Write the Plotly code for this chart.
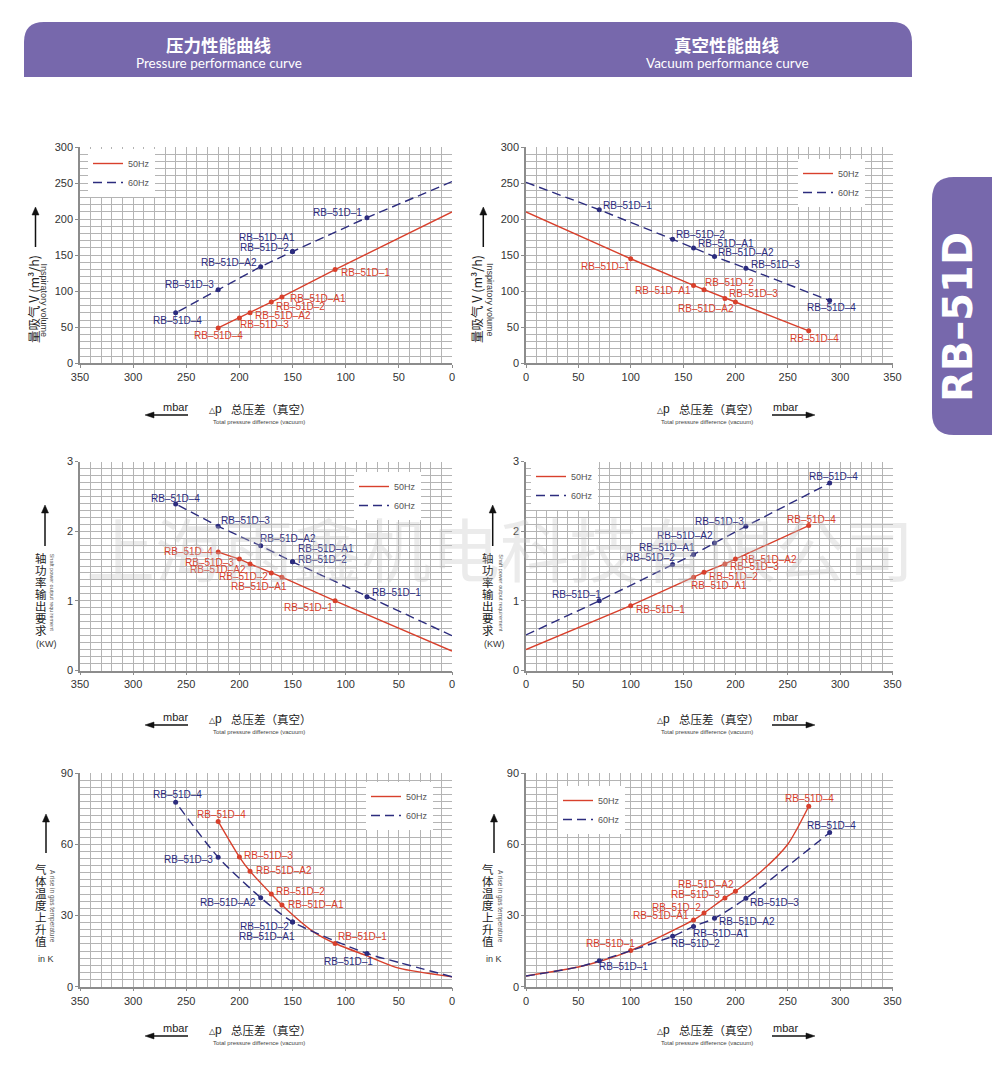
import plotly.graph_objects as go
import numpy as np

# page body has an 8px margin: the figure is sized to fit the window and all
# positions below are given in window pixels, converted with that offset.
OFF = 8
W, H = 1000 - OFF, 1065 - OFF
FONT = "Liberation Sans, Arial, sans-serif"
CJK = "Noto Sans CJK SC, Noto Sans, sans-serif"
RED = "#d8402c"
BLUE = "#2c2c7e"
GRID = "#b4b4b4"

# ---------------- DATA ----------------
# Top-left: pressure, inspiratory volume (m3/h)
TL_RED_NAMES = ["RB–51D–4", "RB–51D–3", "RB–51D–A2", "RB–51D–2", "RB–51D–A1", "RB–51D–1"]
TL_RED_X = [220, 200, 190, 170, 160, 110]
TL_RED_Y = [49, 63, 70, 85, 92, 130]
TL_RED_EXT_X = [0]
TL_RED_EXT_Y = [210]
TL_BLUE_NAMES = ["RB–51D–4", "RB–51D–3", "RB–51D–A2", "RB–51D–2", "RB–51D–A1", "RB–51D–1"]
TL_BLUE_X = [260, 220, 180, 150, 150, 80]
TL_BLUE_Y = [70, 102, 134, 155, 155, 202]
TL_BLUE_EXT_X = [0]
TL_BLUE_EXT_Y = [252]

# Top-right: vacuum, inspiratory volume
TR_RED_NAMES = ["RB–51D–1", "RB–51D–A1", "RB–51D–2", "RB–51D–A2", "RB–51D–3", "RB–51D–4"]
TR_RED_X = [100, 160, 170, 190, 200, 270]
TR_RED_Y = [145, 108, 102, 90, 85, 45]
TR_RED_EXT_X = [0]
TR_RED_EXT_Y = [210]
TR_BLUE_NAMES = ["RB–51D–1", "RB–51D–2", "RB–51D–A1", "RB–51D–A2", "RB–51D–3", "RB–51D–4"]
TR_BLUE_X = [70, 140, 160, 180, 210, 290]
TR_BLUE_Y = [213, 172, 160, 148, 132, 87]
TR_BLUE_EXT_X = [0]
TR_BLUE_EXT_Y = [251]

# Middle-left: pressure, shaft power (KW)
ML_RED_NAMES = ["RB–51D–4", "RB–51D–3", "RB–51D–A2", "RB–51D–2", "RB–51D–A1", "RB–51D–1"]
ML_RED_X = [220, 200, 190, 170, 160, 110]
ML_RED_Y = [1.70, 1.60, 1.53, 1.40, 1.34, 1.00]
ML_RED_EXT_X = [0]
ML_RED_EXT_Y = [0.28]
ML_BLUE_NAMES = ["RB–51D–4", "RB–51D–3", "RB–51D–A2", "RB–51D–A1", "RB–51D–2", "RB–51D–1"]
ML_BLUE_X = [260, 220, 180, 150, 150, 80]
ML_BLUE_Y = [2.39, 2.07, 1.79, 1.56, 1.56, 1.06]
ML_BLUE_EXT_X = [0]
ML_BLUE_EXT_Y = [0.50]

# Middle-right: vacuum, shaft power
MR_RED_NAMES = ["RB–51D–1", "RB–51D–A1", "RB–51D–2", "RB–51D–3", "RB–51D–A2", "RB–51D–4"]
MR_RED_X = [100, 160, 170, 190, 200, 270]
MR_RED_Y = [0.93, 1.34, 1.41, 1.53, 1.60, 2.08]
MR_RED_EXT_X = [0]
MR_RED_EXT_Y = [0.30]
MR_BLUE_NAMES = ["RB–51D–1", "RB–51D–2", "RB–51D–A1", "RB–51D–A2", "RB–51D–3", "RB–51D–4"]
MR_BLUE_X = [70, 140, 160, 180, 210, 290]
MR_BLUE_Y = [1.00, 1.52, 1.665, 1.83, 2.07, 2.69]
MR_BLUE_EXT_X = [0]
MR_BLUE_EXT_Y = [0.51]

# Bottom-left: pressure, gas temperature rise (K)
BL_RED_NAMES = ["RB–51D–4", "RB–51D–3", "RB–51D–A2", "RB–51D–2", "RB–51D–A1", "RB–51D–1"]
BL_RED_X = [220, 200, 190, 170, 160, 110]
BL_RED_Y = [69.6, 54.6, 48.6, 39.0, 34.4, 18.2]
BL_RED_EXT_X = [130, 80, 50, 0]
BL_RED_EXT_Y = [23.0, 13.0, 7.8, 4.2]
BL_BLUE_NAMES = ["RB–51D–4", "RB–51D–3", "RB–51D–A2", "RB–51D–2", "RB–51D–A1", "RB–51D–1"]
BL_BLUE_X = [260, 220, 180, 150, 150, 80]
BL_BLUE_Y = [77.7, 54.5, 37.5, 27.3, 27.3, 14.0]
BL_BLUE_EXT_X = [50, 0]
BL_BLUE_EXT_Y = [10.2, 4.2]

# Bottom-right: vacuum, gas temperature rise
BR_RED_NAMES = ["RB–51D–1", "RB–51D–A1", "RB–51D–2", "RB–51D–3", "RB–51D–A2", "RB–51D–4"]
BR_RED_X = [100, 160, 170, 190, 200, 270]
BR_RED_Y = [15.2, 28.1, 31.0, 37.4, 40.2, 76.0]
BR_RED_EXT_X = [0, 50, 70, 225, 250]
BR_RED_EXT_Y = [4.5, 8.3, 10.6, 48.7, 60.0]
BR_BLUE_NAMES = ["RB–51D–1", "RB–51D–2", "RB–51D–A1", "RB–51D–A2", "RB–51D–3", "RB–51D–4"]
BR_BLUE_X = [70, 140, 160, 180, 210, 290]
BR_BLUE_Y = [10.9, 21.2, 25.4, 28.8, 37.2, 64.9]
BR_BLUE_EXT_X = [0, 50]
BR_BLUE_EXT_Y = [4.5, 8.3]

X_TICKS = [0, 50, 100, 150, 200, 250, 300, 350]
SERIES_NAMES = ["50Hz", "60Hz"]

# ---------------- LABEL PLACEMENT (style) ----------------
# (anchor, dx px, dy px downward)
LBL = {
    "TL_RED": [("c", 0, 8), ("l", -1, 7), ("l", 3, 3), ("l", 3, 4), ("l", 6, 2), ("l", 4, 3)],
    "TL_BLUE": [("c", 2, 8), ("r", -2, -5), ("r", -2, -4), ("r", -2, -4), ("r", 4, -14), ("r", -3, -5)],
    "TR_RED": [("r", 1, 8), ("r", -1, 5), ("l", -1, -7), ("r", 11, 10), ("l", -8, -9), ("c", 6, 8)],
    "TR_BLUE": [("l", 2, -4), ("l", 1, -5), ("l", 2, -4), ("l", 2, -4), ("l", 3, -4), ("c", 2, 7)],
    "ML_RED": [("r", -3, -1), ("r", -3, 3), ("r", -2, 6), ("r", -1, 4), ("r", 7, 9), ("r", 0, 7)],
    "ML_BLUE": [("c", 0, -6), ("l", 1, -6), ("l", -3, -7), ("l", 3, -13), ("l", 3, -2), ("l", 3, -4)],
    "MR_RED": [("l", 3, 4), ("l", -5, 8), ("l", 3, 4), ("l", 3, 3), ("l", 4, 0), ("c", 3, -6)],
    "MR_BLUE": [("r", 4, -6), ("r", 4, -7), ("r", 3, -7), ("r", 1, -8), ("r", 0, -5), ("c", 4, -7)],
    "BL_RED": [("c", 3, -7), ("l", 3, -2), ("l", 4, -1), ("l", 3, -3), ("l", 4, -1), ("l", 1, -7)],
    "BL_BLUE": [("c", 2, -8), ("r", -3, 2), ("r", -3, 5), ("r", -2, 5), ("r", 4, 15), ("r", 8, 8)],
    "BR_RED": [("r", 6, -7), ("r", -3, -4), ("r", -1, -6), ("r", -3, -3), ("r", 1, -7), ("c", 1, -8)],
    "BR_BLUE": [("l", -2, 6), ("l", -4, 7), ("l", -3, 7), ("l", 3, 3), ("l", 2, 4), ("c", 2, -7)],
}
ANCH = {"l": "left", "r": "right", "c": "center"}


def px(x):
    return (x - OFF) / W


def py(y):
    return 1 - (y - OFF) / H


COLS = [(80, 452), (526, 892.5)]
ROWS = [(147, 363.3), (461.5, 670.5), (773, 986.7)]

charts = [
    dict(k="TL", c=0, r=0, yr=[0, 300], dt=50, mn=10, spline=False, leg=(88, 149)),
    dict(k="TR", c=1, r=0, yr=[0, 300], dt=50, mn=10, spline=False, leg=(798, 159)),
    dict(k="ML", c=0, r=1, yr=[0, 3], dt=1, mn=0.1, spline=False, leg=(354, 472)),
    dict(k="MR", c=1, r=1, yr=[0, 3], dt=1, mn=0.1, spline=False, leg=(531, 462)),
    dict(k="BL", c=0, r=2, yr=[0, 90], dt=30, mn=3, spline=True, leg=(366, 782)),
    dict(k="BR", c=1, r=2, yr=[0, 90], dt=30, mn=3, spline=True, leg=(558, 786)),
]
G = globals()

fig = go.Figure()
annotations = []
shapes = []
layout = {}

for i, ch in enumerate(charts, start=1):
    k = ch["k"]
    xa = "x" if i == 1 else f"x{i}"
    ya = "y" if i == 1 else f"y{i}"
    legname = "legend" if i == 1 else f"legend{i}"
    x0, x1 = COLS[ch["c"]]
    yt, yb = ROWS[ch["r"]]
    rev = ch["c"] == 0
    layout["xaxis" if i == 1 else f"xaxis{i}"] = dict(
        domain=[px(x0), px(x1)], anchor=ya,
        range=[350, 0] if rev else [0, 350],
        tickvals=X_TICKS, showgrid=True, gridcolor=GRID, gridwidth=1,
        minor=dict(dtick=10, tick0=0, showgrid=True, gridcolor=GRID, gridwidth=1),
        showline=True, linecolor="#8c8c8c", linewidth=1.5, mirror=False,
        ticks="outside", ticklen=3, tickcolor="#8c8c8c",
        tickfont=dict(family=FONT, size=11, color="#333"), zeroline=False,
        fixedrange=True, automargin=False,
    )
    layout["yaxis" if i == 1 else f"yaxis{i}"] = dict(
        domain=[py(yb), py(yt)], anchor=xa, range=ch["yr"], dtick=ch["dt"],
        showgrid=True, gridcolor=GRID, gridwidth=1,
        minor=dict(dtick=ch["mn"], tick0=0, showgrid=True, gridcolor=GRID, gridwidth=1),
        showline=True, linecolor="#8c8c8c", linewidth=1.5,
        ticks="outside", ticklen=3, tickcolor="#8c8c8c",
        tickfont=dict(family=FONT, size=11, color="#333"), zeroline=False,
        fixedrange=True, automargin=False,
    )
    lx, ly = ch["leg"]
    layout[legname] = dict(
        x=px(lx), y=py(ly), xref="paper", yref="paper", xanchor="left", yanchor="top",
        bgcolor="white", borderwidth=0, font=dict(family=FONT, size=9, color="#555"),
        tracegroupgap=0, itemwidth=30,
    )
    for ci, (col, dash, sname) in enumerate([(RED, "solid", SERIES_NAMES[0]), (BLUE, "9px,5px", SERIES_NAMES[1])]):
        tag = "RED" if ci == 0 else "BLUE"
        names = G[f"{k}_{tag}_NAMES"]
        xs = G[f"{k}_{tag}_X"]
        ys = G[f"{k}_{tag}_Y"]
        ex = G[f"{k}_{tag}_EXT_X"]
        ey = G[f"{k}_{tag}_EXT_Y"]
        pts = {}
        for a, b in zip(list(xs) + list(ex), list(ys) + list(ey)):
            pts[a] = b
        lxs = np.array(sorted(pts.keys()), dtype=float)
        lys = np.array([pts[v] for v in sorted(pts.keys())], dtype=float)
        fig.add_trace(go.Scatter(
            x=lxs, y=lys, mode="lines", name=sname, xaxis=xa, yaxis=ya, legend=legname,
            line=dict(color=col, width=1.4, dash=dash,
                      shape="spline" if ch["spline"] else "linear", smoothing=0.7),
            hoverinfo="skip",
        ))
        fig.add_trace(go.Scatter(
            x=xs, y=ys, mode="markers", showlegend=False, xaxis=xa, yaxis=ya,
            marker=dict(color=col, size=5), text=names, hoverinfo="text",
        ))
        for (nm, xv, yv), (an, dx, dy) in zip(zip(names, xs, ys), LBL[f"{k}_{tag}"]):
            annotations.append(dict(
                x=xv, y=yv, xref=xa, yref=ya, text=nm, showarrow=False,
                xanchor=ANCH[an], yanchor="middle", xshift=dx, yshift=-dy,
                font=dict(family=FONT, size=10, color=col),
            ))


def ann(x, y, text, size, color="#222", family=FONT, angle=0, xanchor="center", yanchor="middle"):
    annotations.append(dict(
        x=px(x), y=py(y), xref="paper", yref="paper", text=text, showarrow=False,
        textangle=angle, xanchor=xanchor, yanchor=yanchor,
        font=dict(family=family, size=size, color=color),
    ))


def poly(points, color="#111", fill=True, width=1.5):
    path = "M " + " L ".join(f"{px(a):.5f},{py(b):.5f}" for a, b in points)
    if fill:
        path += " Z"
    shapes.append(dict(type="path", xref="paper", yref="paper", path=path,
                       fillcolor=color if fill else None,
                       line=dict(color=color, width=width if not fill else 0.5)))


def varrow(x, tip, tail):
    poly([(x, tail), (x, tip + 6)], fill=False)
    poly([(x - 3.5, tip + 8), (x + 3.5, tip + 8), (x, tip)])


def harrow(y, tail, tip):
    s = 1 if tip > tail else -1
    poly([(tail, y), (tip - s * 6, y)], fill=False)
    poly([(tip - s * 9, y - 3), (tip - s * 9, y + 3), (tip, y)])


# ---------------- axis titles ----------------
ROW_OFF = [0, 310, 621]
for r in range(3):
    o = ROW_OFF[r]
    # left column (pressure)
    ann(175.5, 406.7 + o, "mbar", 11, "#222")
    harrow(415 + o, 188, 145)
    ann(207, 409.3 + o, "<span style='font-size:8px'>△</span>p", 12, "#222", xanchor="left")
    ann(271.7, 409.3 + o, "总压差（真空）", 11.5, "#222", family=CJK)
    ann(259, 422.3 + o, "Total pressure difference (vacuum)", 6, "#444")
    # right column (vacuum)
    ann(655, 409.3 + o, "<span style='font-size:8px'>△</span>p", 12, "#222", xanchor="left")
    ann(719, 409.3 + o, "总压差（真空）", 11.5, "#222", family=CJK)
    ann(706.7, 422.3 + o, "Total pressure difference (vacuum)", 6, "#444")
    ann(785.3, 406.7 + o, "mbar", 11, "#222")
    harrow(415 + o, 772, 815)

# Row 1 y titles
for (xm, xs_, xa_) in [(34, 43.5, 35.5), (477, 490, 483.3)]:
    ann(xm, 299, "量吸气 V (m³/h)", 12.5, "#222", family=CJK, angle=-90)
    ann(xs_, 300, "Inspiratory volume", 9, "#333", angle=90)
    varrow(xa_, 207, 247)

# Row 2 y titles
for (xc, xk, xs_, xa_) in [(41, 46, 52.3, 45), (488.3, 494, 500.7, 492.7)]:
    for j, chn in enumerate("轴功率输出要求"):
        ann(xc, 557.7 + 12 * j, chn, 11.5, "#222", family=CJK)
    ann(xk, 644.3, "(KW)", 9, "#333")
    ann(xs_, 593, "Shaft power output requirement", 5.5, "#555", angle=90)
    varrow(xa_, 505, 546)

# Row 3 y titles
for (xc, xk, xs_, xa_) in [(41, 46, 52.7, 46), (488.3, 494, 500.7, 494)]:
    for j, chn in enumerate("气体温度上升值"):
        ann(xc, 868.7 + 12.1 * j, chn, 11.5, "#222", family=CJK)
    ann(xk, 959, "in K", 9, "#333")
    ann(xs_, 906.7, "A rise in gas temperature", 6.5, "#555", angle=90)
    varrow(xa_, 814, 853)

# ---------------- header bar ----------------
PURPLE = "#7768ac"
hx0, hx1, hyt, hyb, hr = 24, 912, 22, 77, 20
shapes.append(dict(
    type="path", xref="paper", yref="paper", fillcolor=PURPLE, line=dict(width=0), layer="below",
    path=(f"M {px(hx0)},{py(hyb)} L {px(hx0)},{py(hyt + hr)} "
          f"Q {px(hx0)},{py(hyt)} {px(hx0 + hr)},{py(hyt)} "
          f"L {px(hx1 - hr)},{py(hyt)} Q {px(hx1)},{py(hyt)} {px(hx1)},{py(hyt + hr)} "
          f"L {px(hx1)},{py(hyb)} Z"),
))
ann(219, 44, "<b>压力性能曲线</b>", 17.5, "white", family=CJK)
ann(219, 63.5, "Pressure performance curve", 13.5, "white", family="Lato, Open Sans, sans-serif")
ann(727, 44, "<b>真空性能曲线</b>", 17.5, "white", family=CJK)
ann(727, 63.5, "Vacuum performance curve", 13.5, "white", family="Lato, Open Sans, sans-serif")

# ---------------- side tab ----------------
tx0, tx1, tyt, tyb, tr = 932, 1000, 177, 435, 22
shapes.append(dict(
    type="path", xref="paper", yref="paper", fillcolor=PURPLE, line=dict(width=0), layer="below",
    path=(f"M {px(tx1)},{py(tyt)} L {px(tx0 + tr)},{py(tyt)} "
          f"Q {px(tx0)},{py(tyt)} {px(tx0)},{py(tyt + tr)} "
          f"L {px(tx0)},{py(tyb - tr)} Q {px(tx0)},{py(tyb)} {px(tx0 + tr)},{py(tyb)} "
          f"L {px(tx1)},{py(tyb)} Z"),
))
ann(958, 317, "<b>RB–51D</b>", 40, "white", family="DejaVu Sans, sans-serif", angle=-90)

# ---------------- watermark ----------------
ann(500, 547, "上海雨鑫机电科技有限公司", 69, "rgba(195,195,195,0.33)", family=CJK)

layout.update(dict(
    width=W, height=H, autosize=False,
    margin=dict(l=0, r=0, t=0, b=0, pad=0, autoexpand=False),
    paper_bgcolor="white", plot_bgcolor="white",
    annotations=annotations, shapes=shapes, hovermode="closest",
))
fig.update_layout(**layout)
fig.write_html("out.html")
